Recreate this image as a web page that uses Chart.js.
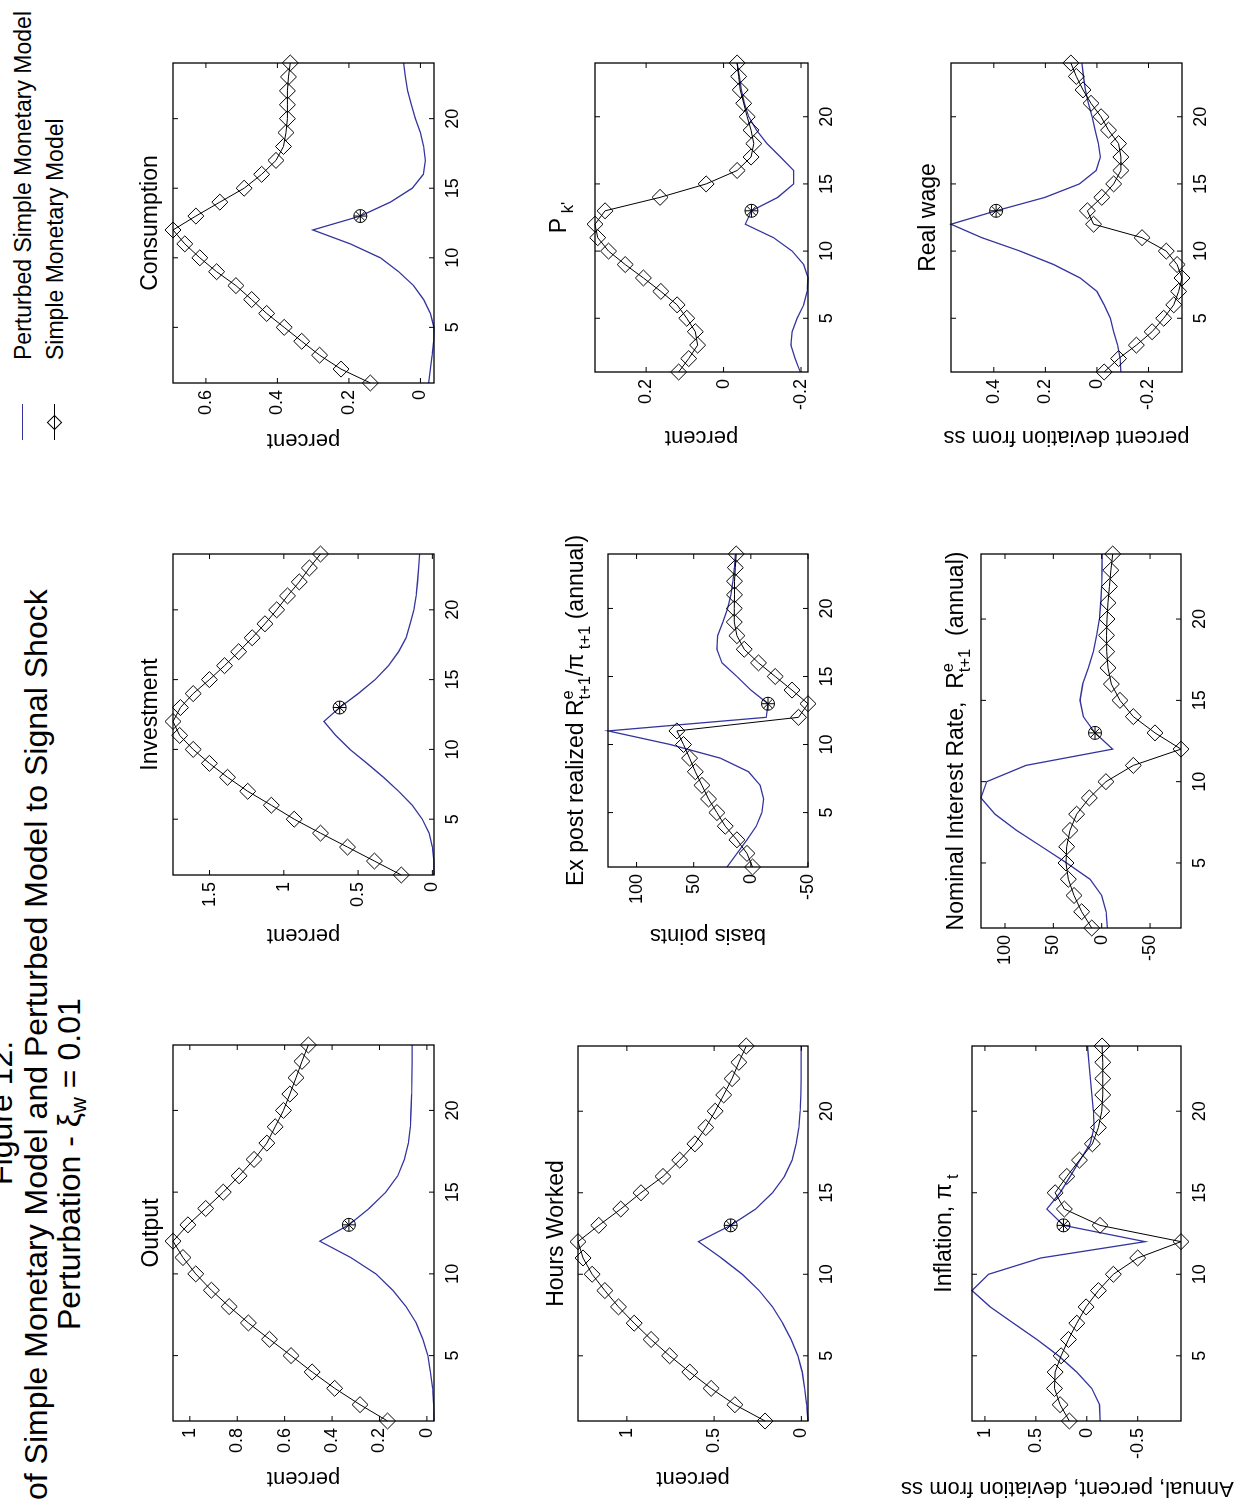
<!DOCTYPE html>
<html>
<head>
<meta charset="utf-8">
<script src="https://cdn.jsdelivr.net/npm/chart.js@4.4.0/dist/chart.umd.min.js"></script>
<style>
  html, body { margin: 0; padding: 0; background: #fff; }
  body { width: 1237px; height: 1503px; position: relative; overflow: hidden; font-family: "Liberation Sans", Arial, sans-serif; }
  #page { position: absolute; left: 0; top: 0; width: 1503px; height: 1237px; transform-origin: 0 0; transform: translateY(1503px) rotate(-90deg); }
  .panel { position: absolute; }
  .ttl { position: absolute; white-space: nowrap; font-size: 32px; line-height: 32px; color: #000; }
  .ttl sub { font-size: 22px; vertical-align: -6px; line-height: 0; }
  .leg { position: absolute; white-space: nowrap; font-size: 23px; line-height: 22px; color: #000; }
  .leg .smp { position: absolute; left: 0; top: 10px; width: 36px; height: 0; border-top: 1.3px solid #000; }
  .leg .dia { position: absolute; left: 12px; top: 5px; width: 11px; height: 11px; border: 1px solid #000; transform: rotate(45deg); box-sizing: border-box; }
  .leg .txt { position: absolute; left: 80px; top: 0; }
</style>
</head>
<body>
<div id="page">
  <div class="ttl" style="left:318px; top:-15px;">Figure 12:</div>
  <div class="ttl" style="left:3px; top:20px;">of Simple Monetary Model and Perturbed Model to Signal Shock</div>
  <div class="ttl" style="left:173px; top:53px;">Perturbation - ξ<sub>w</sub> = 0.01</div>
  <div class="leg" style="left:1063px; top:12px; width:440px; height:22px;">
    <span class="smp" style="border-top-color:#34349f;"></span><span class="txt">Perturbed Simple Monetary Model</span>
  </div>
  <div class="leg" style="left:1063px; top:44px; width:440px; height:22px;">
    <span class="smp"></span><span class="dia"></span><span class="txt">Simple Monetary Model</span>
  </div>
</div>
<script>
// periods on the horizontal axis
const periods = [1,2,3,4,5,6,7,8,9,10,11,12,13,14,15,16,17,18,19,20,21,22,23,24];
const xTicks = [5,10,15,20];
const markPeriod = 13;

// Output
const outputSimple = [0.166,0.282,0.389,0.484,0.573,0.664,0.753,0.834,0.909,0.975,1.029,1.071,1.008,0.933,0.859,0.792,0.729,0.675,0.640,0.605,0.578,0.552,0.527,0.500];
const outputPerturbed = [-0.030,-0.028,-0.024,-0.015,-0.004,0.017,0.045,0.088,0.144,0.215,0.321,0.452,0.329,0.244,0.173,0.123,0.095,0.078,0.070,0.067,0.064,0.063,0.062,0.062];
const outputTicks = [0,0.2,0.4,0.6,0.8,1];

// Hours worked
const hoursSimple = [0.208,0.381,0.517,0.639,0.755,0.861,0.958,1.048,1.126,1.199,1.251,1.280,1.161,1.035,0.919,0.793,0.697,0.610,0.548,0.494,0.445,0.397,0.358,0.316];
const hoursPerturbed = [-0.038,-0.030,-0.019,-0.005,0.020,0.059,0.107,0.165,0.242,0.339,0.459,0.590,0.405,0.262,0.165,0.097,0.053,0.030,0.014,0.007,0.003,0.001,0.001,0.001];
const hoursTicks = [0,0.5,1];

// Inflation
const inflSimple = [0.171,0.262,0.317,0.311,0.252,0.180,0.098,0.007,-0.114,-0.261,-0.500,-0.925,-0.130,0.220,0.311,0.196,0.072,-0.055,-0.114,-0.147,-0.157,-0.157,-0.157,-0.150];
const inflPerturbed = [-0.130,-0.125,-0.049,0.098,0.278,0.490,0.720,0.948,1.127,0.965,0.451,-0.572,0.229,0.392,0.262,0.164,0.066,-0.032,-0.072,-0.065,-0.050,-0.035,-0.020,-0.007];
const inflTicks = [-0.5,0,0.5,1];

// Investment
const invSimple = [0.209,0.390,0.571,0.753,0.930,1.084,1.243,1.379,1.501,1.610,1.701,1.746,1.696,1.610,1.501,1.399,1.304,1.213,1.127,1.048,0.975,0.896,0.828,0.753];
const invPerturbed = [-0.011,-0.010,0.000,0.022,0.068,0.136,0.227,0.329,0.440,0.555,0.650,0.730,0.624,0.499,0.385,0.295,0.227,0.177,0.150,0.125,0.110,0.100,0.092,0.086];
const invTicks = [0,0.5,1,1.5];

// Ex post realized real rate
const expostSimple = [-1.5,3.4,12.2,22.4,29.7,37.0,42.8,48.6,53.6,58.9,64.7,-41.7,-50.0,-36.0,-21.3,-6.7,5.8,12.2,14.5,14.5,14.3,14.3,13.6,12.8];
const expostPerturbed = [20.9,12.2,3.4,-4.7,-9.7,-11.1,-8.2,2.0,26.8,70.5,125.0,-13.5,-15.0,0.0,12.2,25.3,29.7,29.1,24.4,20.4,17.4,15.7,14.5,13.6];
const expostTicks = [-50,0,50,100];

// Nominal interest rate
const nomSimple = [10.3,20.7,28.6,34.5,36.9,36.2,32.8,25.9,12.8,-4.4,-32.7,-82.0,-55.1,-32.7,-18.9,-10.0,-6.5,-5.2,-5.0,-5.5,-6.5,-8.0,-9.5,-11.4];
const nomPerturbed = [-5.9,-4.5,0.0,12.1,36.2,62.0,87.9,110.3,124.8,118.9,78.3,-11.4,6.9,19.0,22.4,19.6,13.8,8.7,5.2,2.4,1.0,0.0,-0.3,-0.5];
const nomTicks = [-50,0,50,100];

// Consumption
const consSimple = [0.140,0.222,0.282,0.332,0.381,0.430,0.472,0.516,0.570,0.617,0.659,0.692,0.628,0.561,0.493,0.444,0.404,0.383,0.376,0.372,0.372,0.372,0.369,0.364];
const consPerturbed = [-0.023,-0.028,-0.033,-0.037,-0.038,-0.028,-0.009,0.019,0.061,0.112,0.196,0.301,0.168,0.084,0.023,-0.008,-0.014,-0.009,0.000,0.014,0.025,0.036,0.042,0.047];
const consTicks = [0,0.2,0.4,0.6];

// Price of capital
const pkSimple = [0.116,0.090,0.067,0.073,0.095,0.120,0.162,0.207,0.254,0.297,0.325,0.332,0.306,0.164,0.045,-0.035,-0.071,-0.078,-0.071,-0.061,-0.052,-0.043,-0.039,-0.035];
const pkPerturbed = [-0.198,-0.185,-0.174,-0.177,-0.190,-0.207,-0.216,-0.218,-0.207,-0.177,-0.129,-0.056,-0.072,-0.140,-0.181,-0.181,-0.147,-0.112,-0.085,-0.065,-0.054,-0.046,-0.041,-0.035];
const pkTicks = [-0.2,0,0.2];

// Real wage
const wageSimple = [-0.028,-0.084,-0.153,-0.214,-0.259,-0.298,-0.317,-0.330,-0.311,-0.269,-0.175,0.013,0.037,-0.019,-0.065,-0.093,-0.093,-0.084,-0.045,-0.016,0.023,0.054,0.080,0.101];
const wagePerturbed = [-0.093,-0.090,-0.080,-0.065,-0.052,-0.028,0.000,0.065,0.168,0.298,0.447,0.566,0.391,0.201,0.068,0.003,-0.013,-0.006,0.007,0.019,0.033,0.045,0.052,0.058];
const wageTicks = [-0.2,0,0.2,0.4];

// panel titles (sub/superscript parts)
const titleOutput = [{text: 'Output'}];
const titleHours = [{text: 'Hours Worked'}];
const titleInfl = [{text: 'Inflation, π'}, {kind: 'sub', text: ' t'}];
const titleInv = [{text: 'Investment'}];
const titleExpost = [{text: 'Ex post realized R'}, {kind: 'ss', sup: 'e', sub: 't+1'}, {text: '/π'}, {kind: 'sub', text: ' t+1'}, {text: ' (annual)'}];
const titleNom = [{text: 'Nominal Interest Rate,  R'}, {kind: 'ss', sup: 'e', sub: 't+1'}, {text: '  (annual)'}];
const titleCons = [{text: 'Consumption'}];
const titlePk = [{text: 'P'}, {kind: 'sub', text: " k'"}];
const titleWage = [{text: 'Real wage'}];

const FONT = '"Liberation Sans", Arial, Helvetica, sans-serif';
const BLUE = '#34349f';
Chart.defaults.font.family = FONT;
Chart.defaults.color = '#000';

// axes box [left, top, right, bottom] in the unrotated page
const panels = [
  {box: [82, 173, 458, 434], title: titleOutput, tGap: 15, yTitle: 'percent', yGap: 57, simple: outputSimple, pert: outputPerturbed, ticks: outputTicks},
  {box: [82, 578, 457, 808], title: titleHours, tGap: 15, yTitle: 'percent', yGap: 57, simple: hoursSimple, pert: hoursPerturbed, ticks: hoursTicks},
  {box: [82, 972, 457, 1181], title: titleInfl, tGap: 21, yTitle: '   Annual, percent, deviation from ss', yGap: 67, simple: inflSimple, pert: inflPerturbed, ticks: inflTicks},
  {box: [628, 173, 949, 434], title: titleInv, tGap: 16, yTitle: 'percent', yGap: 60, simple: invSimple, pert: invPerturbed, ticks: invTicks},
  {box: [636, 608, 949, 808], title: titleExpost, tGap: 25, yTitle: 'basis points', yGap: 68, simple: expostSimple, pert: expostPerturbed, ticks: expostTicks},
  {box: [575, 981, 949, 1181], title: titleNom, tGap: 18, yTitle: '', yGap: 60, simple: nomSimple, pert: nomPerturbed, ticks: nomTicks},
  {box: [1120, 173, 1440, 434], title: titleCons, tGap: 16, yTitle: 'percent', yGap: 57, simple: consSimple, pert: consPerturbed, ticks: consTicks},
  {box: [1131, 595, 1440, 808], title: titlePk, tGap: 29, yTitle: 'percent', yGap: 65, simple: pkSimple, pert: pkPerturbed, ticks: pkTicks},
  {box: [1131, 951, 1440, 1182], title: titleWage, tGap: 16, yTitle: 'percent deviation from ss', yGap: 65, simple: wageSimple, pert: wagePerturbed, ticks: wageTicks},
];

// canvas margins around the axes box: y axis, top, right, x axis, extra bottom room
const YW = 110, PT = 80, PR = 60, XH = 42, EB = 70;
const YTITLE_SIZE = 22;

// matlab style box with inward ticks on all four sides
const boxPlugin = {
  id: 'matBox',
  afterDraw(chart) {
    const {ctx, chartArea: a, scales} = chart;
    ctx.save();
    ctx.strokeStyle = '#000';
    ctx.lineWidth = 1.3;
    ctx.strokeRect(a.left, a.top, a.right - a.left, a.bottom - a.top);
    ctx.lineWidth = 1;
    ctx.beginPath();
    scales.x.ticks.forEach(t => {
      const px = scales.x.getPixelForValue(t.value);
      ctx.moveTo(px, a.bottom); ctx.lineTo(px, a.bottom - 5);
      ctx.moveTo(px, a.top); ctx.lineTo(px, a.top + 5);
    });
    scales.y.ticks.forEach(t => {
      const py = scales.y.getPixelForValue(t.value);
      ctx.moveTo(a.left, py); ctx.lineTo(a.left + 5, py);
      ctx.moveTo(a.right, py); ctx.lineTo(a.right - 5, py);
    });
    ctx.stroke();
    ctx.restore();
  }
};

// title with sub / superscripts, centred over the axes
const titlePlugin = {
  id: 'richTitle',
  afterDraw(chart, args, opts) {
    const parts = opts.parts;
    if (!parts) return;
    const {ctx, chartArea: a} = chart;
    const fs = opts.size;
    const big = fs + 'px ' + FONT;
    const sm = (fs * 0.72) + 'px ' + FONT;
    ctx.save();
    ctx.fillStyle = '#000';
    ctx.textAlign = 'left';
    ctx.textBaseline = 'alphabetic';
    const widths = parts.map(p => {
      if (p.kind === 'ss') {
        ctx.font = sm;
        return Math.max(ctx.measureText(p.sup).width, ctx.measureText(p.sub).width);
      }
      ctx.font = p.kind ? sm : big;
      return ctx.measureText(p.text).width;
    });
    let x = (a.left + a.right) / 2 - widths.reduce((s, w) => s + w, 0) / 2;
    const y = a.top - opts.gap;
    parts.forEach((p, i) => {
      if (p.kind === 'ss') {
        ctx.font = sm;
        ctx.fillText(p.sup, x, y - fs * 0.42);
        ctx.fillText(p.sub, x, y + fs * 0.3);
      } else if (p.kind === 'sub') {
        ctx.font = sm;
        ctx.fillText(p.text, x, y + fs * 0.3);
      } else {
        ctx.font = big;
        ctx.fillText(p.text, x, y);
      }
      x += widths[i];
    });
    ctx.restore();
  }
};

function pts(arr) {
  return periods.map((p, i) => ({x: p, y: arr[i]}));
}

function makePanel(p) {
  const [l, t, r, b] = p.box;
  const w = YW + (r - l) + PR;
  const h = PT + (b - t) + XH + EB;
  const cv = document.createElement('canvas');
  cv.className = 'panel';
  cv.width = w; cv.height = h;
  cv.style.left = (l - YW) + 'px';
  cv.style.top = (t - PT) + 'px';
  cv.style.width = w + 'px';
  cv.style.height = h + 'px';
  document.getElementById('page').appendChild(cv);

  const all = p.simple.concat(p.pert);
  const yMin = Math.min(...all), yMax = Math.max(...all);
  const mark = [{x: markPeriod, y: p.pert[periods.indexOf(markPeriod)]}];

  new Chart(cv, {
    type: 'line',
    data: {
      datasets: [
        {data: mark, showLine: false, pointStyle: 'star', pointRadius: 6.5, pointBorderColor: '#000', pointBorderWidth: 1, pointBackgroundColor: 'rgba(0,0,0,0)', clip: false},
        {data: mark, showLine: false, pointStyle: 'circle', pointRadius: 6.5, pointBorderColor: '#000', pointBorderWidth: 1, pointBackgroundColor: 'rgba(0,0,0,0)', clip: false},
        {label: 'Simple Monetary Model', data: pts(p.simple), borderColor: '#000', borderWidth: 1, tension: 0,
         pointStyle: 'rectRot', pointRadius: 8, pointBorderColor: '#000', pointBorderWidth: 1, pointBackgroundColor: 'rgba(0,0,0,0)', clip: false},
        {label: 'Perturbed Simple Monetary Model', data: pts(p.pert), borderColor: BLUE, borderWidth: 1.3, tension: 0, pointRadius: 0, clip: false}
      ]
    },
    options: {
      responsive: false,
      animation: false,
      devicePixelRatio: 1,
      events: [],
      layout: {padding: {top: PT, right: PR, left: 0, bottom: EB}},
      plugins: {
        legend: {display: false},
        tooltip: {enabled: false},
        title: {display: false},
        richTitle: {parts: p.title, size: 23, gap: p.tGap}
      },
      scales: {
        x: {
          type: 'linear', min: 1, max: 24,
          afterBuildTicks: s => { s.ticks = xTicks.map(v => ({value: v})); },
          afterFit: s => { s.height = XH; },
          grid: {display: false, drawTicks: false},
          border: {display: false},
          ticks: {font: {size: 18}, color: '#000', padding: 8, maxRotation: 0, autoSkip: false}
        },
        y: {
          type: 'linear', min: yMin, max: yMax,
          afterBuildTicks: s => { s.ticks = p.ticks.map(v => ({value: v})); },
          afterFit: s => { s.width = YW; },
          grid: {display: false, drawTicks: false},
          border: {display: false},
          ticks: {font: {size: 18}, color: '#000', padding: 7, autoSkip: false, callback: v => String(v)},
          title: {display: !!p.yTitle, text: p.yTitle, color: '#000', font: {size: YTITLE_SIZE},
                  padding: {top: YW - p.yGap - YTITLE_SIZE * 0.6, bottom: 0}}
        }
      }
    },
    plugins: [boxPlugin, titlePlugin]
  });
}

panels.forEach(makePanel);
</script>
</body>
</html>
